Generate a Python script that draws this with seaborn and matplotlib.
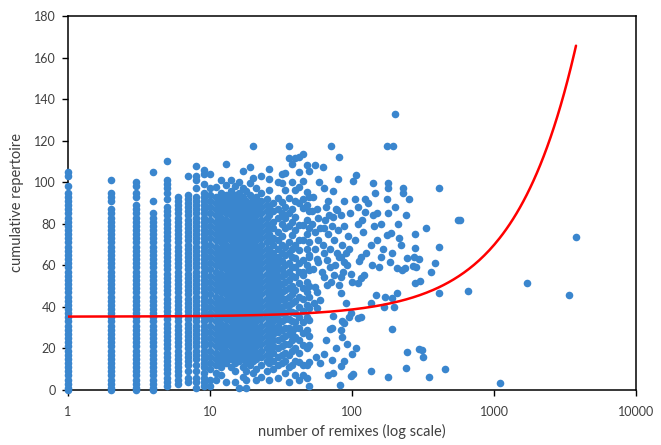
import matplotlib
matplotlib.use("Agg")
import matplotlib.pyplot as plt
import numpy as np
import pandas as pd
import seaborn as sns

# ---------------- data ----------------
x_label = "number of remixes (log scale)"
y_label = "cumulative repertoire"
x_ticks = [1, 10, 100, 1000, 10000]
x_tick_labels = ["1", "10", "100", "1000", "10000"]
y_ticks = [0, 20, 40, 60, 80, 100, 120, 140, 160, 180]

# vertical stacks at small integer remix counts
column_x = [1, 2, 3, 4, 5, 6, 7, 8, 9]
column_y = [
    [105,103,98,95,93,91,89,87,85,83,81,79,77,75,73,71,69,67,65,63,61,59,57,55,53,51,49,47,45,43,41,39,37,35,33,31,29,27,25,23,21,19,17,15,13,11,9,7,5,3,1,0],
    [101,95,93,91,87,85,83,81,79,77,75,73,71,69,67,65,63,61,59,57,55,53,51,49,47,45,43,41,39,37,35,33,31,29,27,25,23,21,19,17,15,13,11,9,7,5,3,1,0],
    [100,98,95,93,89,87,85,83,81,79,77,75,73,71,69,67,65,63,61,59,57,55,53,51,49,47,45,43,41,39,37,35,33,31,29,27,25,23,21,19,17,15,13,11,9,7,5,3,1,0],
    [105,91,85,83,81,79,77,75,73,71,69,67,65,63,61,59,57,55,53,51,49,47,45,43,41,39,37,35,33,31,29,27,25,23,21,19,17,15,13,11,9,7,5,3,1,0],
    [110,101,99,97,95,92,88,86,84,82,80,78,76,74,72,70,68,66,64,62,60,58,56,54,52,50,48,46,44,42,40,38,36,34,32,30,28,26,24,22,20,18,16,14,12,10,8,6,4,2],
    [93,91,89,87,85,83,81,79,77,75,73,71,69,67,65,63,61,59,57,55,53,51,49,47,45,43,41,39,37,35,33,31,29,27,25,23,21,19,17,15,13,11,9,7,5,3],
    [103,94,92,90,88,86,84,82,80,78,76,74,72,70,68,66,64,62,60,58,56,54,52,50,48,46,44,42,40,38,36,34,32,30,28,26,24,22,20,18,16,14,12,9,6,4],
    [108,103,101,97,93,91,89,87,85,83,81,79,77,75,73,71,69,67,65,63,61,59,57,55,53,51,49,47,45,43,41,39,37,35,33,31,29,27,25,23,21,19,17,15,12,9,6,4,1],
    [106,104,99,95,93,91,89,87,85,83,81,79,77,75,73,71,69,67,65,63,61,59,57,55,53,51,49,47,45,43,41,39,37,35,33,31,29,27,25,23,21,19,17,15,13,11,8,6,4,2],
]

# dense cloud between 10 and 50 remixes
core_x = [10, 11, 12, 13, 14, 15, 16, 17, 18, 19, 20, 21, 23, 25, 26, 28, 30, 32, 34, 36, 38, 40, 42, 45, 48, 50]
core_y = [
    [104,97,94,91,88,85,82,79,76,73,70,67,64,61,58,55,52,49,46,43,40,37,34,31,28,25,22,19,16,13,10,5,2],
    [97.5,93,90,87,84,81,78,75,72,69,66,63,60,57,54,51,48,45,42,39,36,33,30,27,24,21,18,15,12,8,5],
    [101,95,92,89,86,83,80,77,74,71,68,65,62,59,56,53,50,47,44,41,38,35,32,29,26,23,20,17,14,11,7],
    [109,98.7,94,91,88,85,82,79,76,73,70,67,64,61,58,55,52,49,46,43,40,37,34,31,28,25,22,19,16,13,4],
    [101,96,93,90,87,84,81,78,75,72,69,66,63,60,57,54,51,48,45,42,39,36,33,30,27,24,21,18,15,11],
    [98,94,91,88,85,82,79,76,73,70,67,64,61,58,55,52,49,46,43,40,37,34,31,28,25,22,19,16,13,9,4],
    [100,95,92,89,86,83,80,77,74,71,68,65,62,59,56,53,50,47,44,41,38,35,32,29,26,23,20,17,14,1],
    [105.5,97,93,90,87,84,81,78,75,72,69,66,63,60,57,54,51,48,45,42,39,36,33,30,27,24,21,18,15,11,6.4],
    [96,91,88,85,82,79,76,73,70,67,64,61,58,55,52,49,46,43,40,37,34,31,28,25,22,19,16,13,9,4.8,1],
    [107.5,99.5,94,90,87,84,81,78,75,72,69,66,63,60,57,54,51,48,45,42,39,36,33,30,27,24,21,18,15,12],
    [117.4,101.9,92,89,86,83,80,77,74,71,68,65,62,59,56,53,50,47,44,41,38,35,32,29,26,23,20,17,14,8],
    [97,93,90,87,84,81,78,75,72,69,66,63,60,57,54,51,48,45,42,39,36,33,30,27,24,21,18,15,10,4.8],
    [103,95,91,88,85,82,79,76,73,70,67,64,61,58,55,52,49,46,43,40,37,34,31,28,25,22,19,16,12,6.4],
    [92,89,86,83,80,77,74,71,68,65,62,59,56,53,50,47,44,41,38,35,32,29,26,23,20,17,14,9],
    [106.4,101.4,96.2,88,84,78,75,72,68,65,62,58,55,52,49,46,43,40,37,34,31,28,25,22,19,16,13,4.8],
    [90,86,81,77.8,73,70,66,63,60,57,54,51,48,45,42,39,36,33,30,27,24,21,18,14,10],
    [100.2,92.2,87,83,76.2,72,68,64,61,58,55,52,49,46,43,40,37,34,31,28,24,20,16,12,5.6],
    [104,99.8,90.6,85,80,74,70,66,62,58,55,51,47,44,40,37,33,29,25,21,17,13],
    [104.3,96.2,88,83,78,69,65,60,56,52,48,44,41,37,34,30,26,22,18,14,8],
    [117.4,111.5,92.2,85,79,71.4,66,61,57,53,49,45,41,38,34,30,27,22,17,11,4],
    [109,100,87,81,74.6,68,64.1,59,55,50,46,41.7,37.7,33,28,24,19,12],
    [111.5,96.2,91,83.4,77,70,63.4,59.3,54.5,48,43,37,32.9,29.7,25.6,20.4,14,7],
    [112,105,97.8,89.8,79.4,72.2,67.4,61,57,51.3,45,40,35.3,30,24,18,13.5,4.8],
    [113.6,100.6,91.8,87.4,79.4,72.2,62.6,57,55.3,49,44,38,32.9,27.3,21.7,12,7.2],
    [108.3,95.4,89,82,75,68,60,52,47,40.9,35,28.9,20.4,12,5.6],
    [105.4,93,86,78,71,65,64.1,57.7,50,44.9,39.3,33.7,26,21.7,13.5,2],
]

# scattered points beyond the dense cloud
spread_x = [54.7,62.1,63,53,67.5,56.5,70.6,81.2,80,87.6,78.7,96.6,73.7,83,
            72,70,83,85,87.6,85,74,95,97.6,90,63,71,75,67,55,57,60,98,100,83,81,83,88,81,67,58,54,57,
            60,63,72,74,68,82,83,99,102,100,107,
            52,55,58,60,62,65,68,70,72,75,78,80,85,88,90,93,55,64,76,92,58,66,86,95,53,61,70,
            66,77,92,56,88,
            107,102,140,178,178,229,229,177,124,124,151,144,111,118,177,187,213,280,276,177,195,200,
            284,272,243,186,208,225,238,160,115,139,155,121,111,115,147,172,191,208,135,168,196,111,115,191,
            243,298,241,179,136,
            407,557,575,330,407,295,268,387,360,280,303,407,660,1700,3750,3400,311,315,455,350,1110,
            105,110,120,130,135,140,150,160,165,180,190,200,210,220,240,250,125,105,112,145,
            52,57,64,69,77,84,59,73]
spread_y = [108.3,107.2,97,93,91.1,87,117.4,112.3,101.4,91.1,86.6,85,83.4,84.2,
            29.7,29.4,28.9,25.4,32.4,33.4,35.6,35.3,36.9,41.7,54.5,52,55.3,50.5,49.7,47.3,43.3,56,52,54.5,50.5,46.5,61.7,64.1,62.5,61.7,41.7,39.3,
            12.8,17.3,14.4,8.3,7.2,2.4,11.5,6.7,7.7,17.3,20,
            80,76,72,78,70,82,75,68,79,72,66,77,70,79,66,74,68,66,60,60,83,88,57,68,58,57,59,
            24,20,22,16,14,
            103.5,100.7,99.5,99.5,97,97,95,91.9,91.9,85.8,85,78.9,79.9,81.8,74.6,75.4,73.3,74.9,68.2,117.4,117.4,132.8,
            59.3,64.1,63.4,61.7,58.6,57.7,58.6,64,64,60.2,59.3,55.3,51.3,53.7,45.7,44.9,44.1,46.5,41.7,40,40,34.5,35.3,29.4,
            18.4,19.6,10.4,6.4,9.3,
            97,81.8,81.8,78.1,68.8,62.9,59.7,61,57,51.6,52.6,46.5,47.5,51.6,73.8,45.7,19.2,16,10.1,6.4,3.2,
            92,88,76,90,70,84,72,80,68,85,66,88,80,70,84,92,66,72,62,95,
            86,63,78,84,87,64,100,96]

# linear trendline (Excel style), drawn on the log axis
trend_intercept = 35.3
trend_slope = 0.0345
trend_range = [1, 3780]

# ---------------- assemble ----------------
xs, ys = [], []
for cx, cy in zip(column_x, column_y):
    xs += [cx] * len(cy)
    ys += list(cy)
for cx, cy in zip(core_x, core_y):
    xs += [cx] * len(cy)
    ys += list(cy)
xs += list(spread_x)
ys += list(spread_y)
df = pd.DataFrame({"remixes": xs, "repertoire": ys})

tx = np.geomspace(trend_range[0], trend_range[1], 300)
trend = pd.DataFrame({"remixes": tx, "repertoire": trend_intercept + trend_slope * tx})

# ---------------- plot ----------------
sns.set_theme(style="white")
plt.rcParams["font.family"] = ["Lato", "DejaVu Sans"]
text_col = "#404040"

fig = plt.figure(figsize=(6.61, 4.45), dpi=100)
ax = fig.add_axes([68 / 661, 55 / 445, 568 / 661, 374 / 445])

sns.scatterplot(data=df, x="remixes", y="repertoire", ax=ax, color="#3A86CE",
                s=30, linewidth=0, alpha=1, clip_on=False, zorder=3, legend=False)
sns.lineplot(data=trend, x="remixes", y="repertoire", ax=ax, color="#FF0000",
             linewidth=1.8, zorder=4, legend=False)

ax.set_xscale("log")
ax.set_xlim(1, 10000)
ax.set_ylim(0, 180)
ax.set_xticks(x_ticks)
ax.set_xticklabels(x_tick_labels)
ax.xaxis.set_minor_locator(matplotlib.ticker.NullLocator())
ax.set_yticks(y_ticks)
ax.set_yticklabels([str(v) for v in y_ticks])

for sp in ax.spines.values():
    sp.set_visible(True)
    sp.set_color("black")
    sp.set_linewidth(1.1)

ax.tick_params(axis="both", which="major", direction="out", length=4.5, width=1,
               color="black", labelsize=9, labelcolor=text_col)
ax.tick_params(axis="x", pad=7)
ax.tick_params(axis="y", pad=4, left=True)
ax.tick_params(axis="x", bottom=True, top=False)
ax.tick_params(axis="y", right=False)

ax.set_xlabel(x_label, fontsize=10.5, color=text_col)
ax.set_ylabel(y_label, fontsize=10.5, color=text_col)
ax.xaxis.set_label_coords(0.5, -0.09)
ax.yaxis.set_label_coords(-0.078, 0.5)
ax.grid(False)

fig.savefig("out.png", dpi=100)
